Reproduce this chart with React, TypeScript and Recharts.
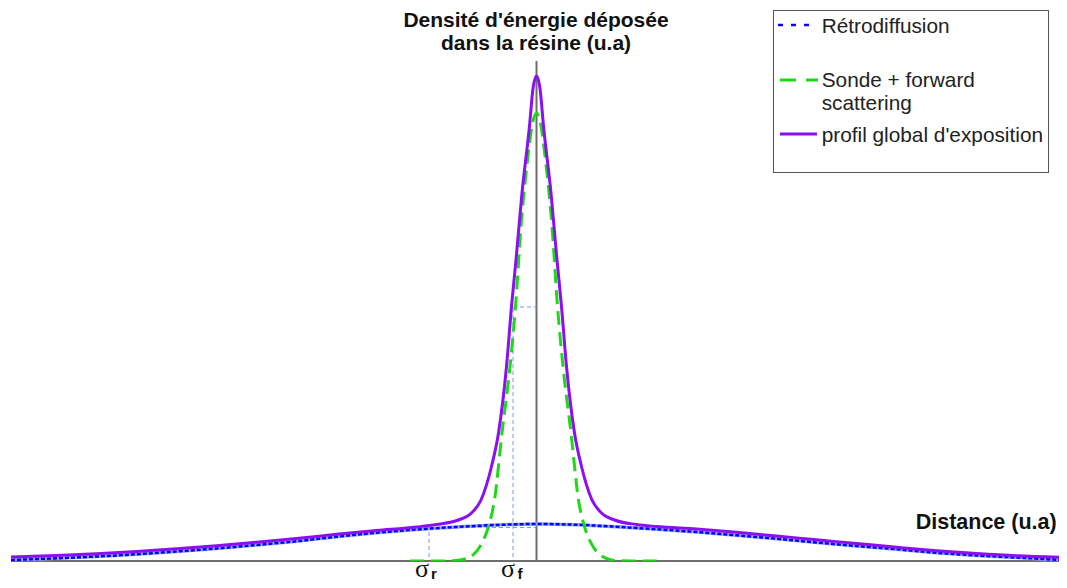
import React from "react";
import { Line, LineChart, ReferenceLine, XAxis, YAxis } from "recharts";

// distance in arbitrary units (0 = beam centre), energy density in arbitrary units
const backscatterX = [-52.55, -48, -44, -40, -36, -32, -28, -24, -20, -16, -12, -8, -4, 0, 4, 8, 12, 16, 20, 24, 28, 32, 36, 40, 44, 48, 52.35];
const backscatterY = [0.2, 0.55, 0.9, 1.35, 1.9, 2.5, 3.2, 3.95, 4.85, 5.65, 6.3, 6.8, 7.2, 7.4, 7.25, 6.85, 6.35, 5.8, 5.15, 4.45, 3.7, 3.0, 2.35, 1.65, 1.1, 0.7, 0.2];

const forwardX = [-12.65, -10, -8, -7, -6.3, -5.65, -4.8, -4.2, -3.45, -2.65, -2.1, -1.55, -0.9, -0.45, 0, 0.45, 0.9, 1.55, 2.1, 2.65, 3.45, 4.2, 4.8, 5.65, 6.3, 7, 8, 10, 12.65];
const forwardY = [0, 0, 0.1, 0.5, 1.3, 2.9, 6.9, 12.2, 25.6, 38.9, 50.9, 66.9, 80.2, 87, 89.6, 87, 80.2, 66.9, 50.9, 38.9, 25.6, 12.2, 6.9, 2.9, 1.3, 0.5, 0.1, 0, 0];

const totalX = [-52.55, -48, -44, -40, -36, -32, -28, -24, -20, -16, -12, -10, -7.8, -6.5, -5.55, -4.5, -3.8, -3.0, -2.5, -2.05, -1.45, -0.7, -0.35, 0, 0.35, 0.7, 1.45, 2.05, 2.5, 3.0, 3.8, 4.5, 5.55, 6.5, 7.8, 10, 12, 16, 20, 24, 28, 32, 36, 40, 44, 48, 52.35];
const totalY = [0.8, 1.1, 1.45, 1.9, 2.45, 3.05, 3.75, 4.5, 5.35, 6.1, 6.8, 7.3, 8.2, 9.6, 12.2, 18.9, 25.6, 38.9, 50.9, 60.2, 73.6, 87, 94.5, 97, 94.5, 87, 73.6, 60.2, 50.9, 38.9, 25.6, 18.9, 12.2, 9.6, 8.2, 7.3, 6.9, 6.4, 5.75, 5.0, 4.25, 3.5, 2.75, 2.05, 1.5, 1.05, 0.75];

// widths of the two distributions, and the curve heights where they are marked
const SIGMA_R = -10.75;
const SIGMA_R_LEVEL = 6.7;
const SIGMA_F = -2.35;
const SIGMA_F_LEVEL = 50.8;

const legendLabels = ["Rétrodiffusion", "Sonde + forward", "scattering", "profil global d'exposition"];

const X_MIN = -52.55;
const X_MAX = 52.35;

const BLUE = "#0505ee";
const BLUE_HALO = "#98acff";
const GREEN = "#1fd81a";
const PURPLE = "#8a0ff2";
const AXIS = "#6e6e6e";
const GUIDE = "#7d9af0";

const W = 1059;
const H = 580;

const toPoints = (xs: number[], ys: number[]) => xs.map((x, i) => ({ x, y: ys[i] }));

const backscatter = toPoints(backscatterX, backscatterY);
const forward = toPoints(forwardX, forwardY);
const total = toPoints(totalX, totalY);

const SANS = "'Liberation Sans', Arial, sans-serif";
const SERIF = "'Liberation Serif', 'Times New Roman', serif";

export default function App() {
  return (
    <div style={{ position: "relative", width: W, height: H }}>
      <LineChart width={W} height={H} margin={{ top: 53, right: 7, bottom: 27, left: 3 }}>
        <XAxis dataKey="x" type="number" domain={[X_MIN, X_MAX]} allowDataOverflow hide />
        <YAxis type="number" domain={[0, 100]} allowDataOverflow hide />
        <ReferenceLine y={0} stroke={AXIS} strokeWidth={2} />
        <ReferenceLine x={0} stroke={AXIS} strokeWidth={2} />
        <ReferenceLine
          segment={[{ x: SIGMA_R, y: 0.8 }, { x: SIGMA_R, y: SIGMA_R_LEVEL }]}
          stroke={GUIDE}
          strokeDasharray="4 3"
        />
        <ReferenceLine
          segment={[{ x: SIGMA_R, y: SIGMA_R_LEVEL }, { x: 0, y: SIGMA_R_LEVEL }]}
          stroke={GUIDE}
          strokeDasharray="4 3"
        />
        <ReferenceLine
          segment={[{ x: SIGMA_F, y: 0.8 }, { x: SIGMA_F, y: SIGMA_F_LEVEL }]}
          stroke={GUIDE}
          strokeDasharray="4 3"
        />
        <ReferenceLine
          segment={[{ x: SIGMA_F, y: SIGMA_F_LEVEL }, { x: 0, y: SIGMA_F_LEVEL }]}
          stroke={GUIDE}
          strokeDasharray="4 3"
        />
        <Line
          data={backscatter}
          dataKey="y"
          type="monotone"
          stroke={BLUE_HALO}
          strokeWidth={3.5}
          dot={false}
          activeDot={false}
          isAnimationActive={false}
        />
        <Line
          data={backscatter}
          dataKey="y"
          type="monotone"
          stroke={BLUE}
          strokeWidth={2.5}
          strokeDasharray="4 2"
          dot={false}
          activeDot={false}
          isAnimationActive={false}
        />
        <Line
          data={forward}
          dataKey="y"
          type="monotone"
          stroke={GREEN}
          strokeWidth={3}
          strokeDasharray="14 7"
          dot={false}
          activeDot={false}
          isAnimationActive={false}
        />
        <Line
          data={total}
          dataKey="y"
          type="monotone"
          stroke={PURPLE}
          strokeWidth={3}
          dot={false}
          activeDot={false}
          isAnimationActive={false}
        />
      </LineChart>

      <svg
        width={W}
        height={H}
        style={{ position: "absolute", left: 0, top: 0, pointerEvents: "none" }}
      >
        <g fontFamily={SANS} fontWeight="bold" fontSize={21} fill="#111">
          <text x={528} y={18.7} textAnchor="middle">Densité d'énergie déposée</text>
          <text x={528} y={42} textAnchor="middle">dans la résine (u.a)</text>
          <text x={1048.7} y={521.3} textAnchor="end" fontSize={21.5}>Distance (u.a)</text>
        </g>

        <g fill="#111">
          <text x={407} y={569} fontFamily={SERIF} fontSize={26}>σ</text>
          <text x={423} y={571} fontFamily={SANS} fontWeight="bold" fontSize={15}>r</text>
          <text x={493} y={569} fontFamily={SERIF} fontSize={26}>σ</text>
          <text x={509.5} y={571} fontFamily={SANS} fontWeight="bold" fontSize={15}>f</text>
        </g>

        <rect x={765.5} y={2.5} width={275} height={162} fill="#fff" stroke="#555" strokeWidth={1} />
        <line x1={770} x2={807} y1={17} y2={17} stroke={BLUE} strokeWidth={2.5} strokeDasharray="5 8" />
        <line x1={772} x2={810} y1={72} y2={72} stroke={GREEN} strokeWidth={3} strokeDasharray="16 10" />
        <line x1={772} x2={809} y1={126} y2={126} stroke={PURPLE} strokeWidth={3} />
        <g fontFamily={SANS} fontSize={20.8} fill="#222">
          <text x={813.7} y={25.3}>{legendLabels[0]}</text>
          <text x={813.7} y={79.3}>{legendLabels[1]}</text>
          <text x={813.7} y={102}>{legendLabels[2]}</text>
          <text x={813.7} y={133.7}>{legendLabels[3]}</text>
        </g>
      </svg>
    </div>
  );
}
